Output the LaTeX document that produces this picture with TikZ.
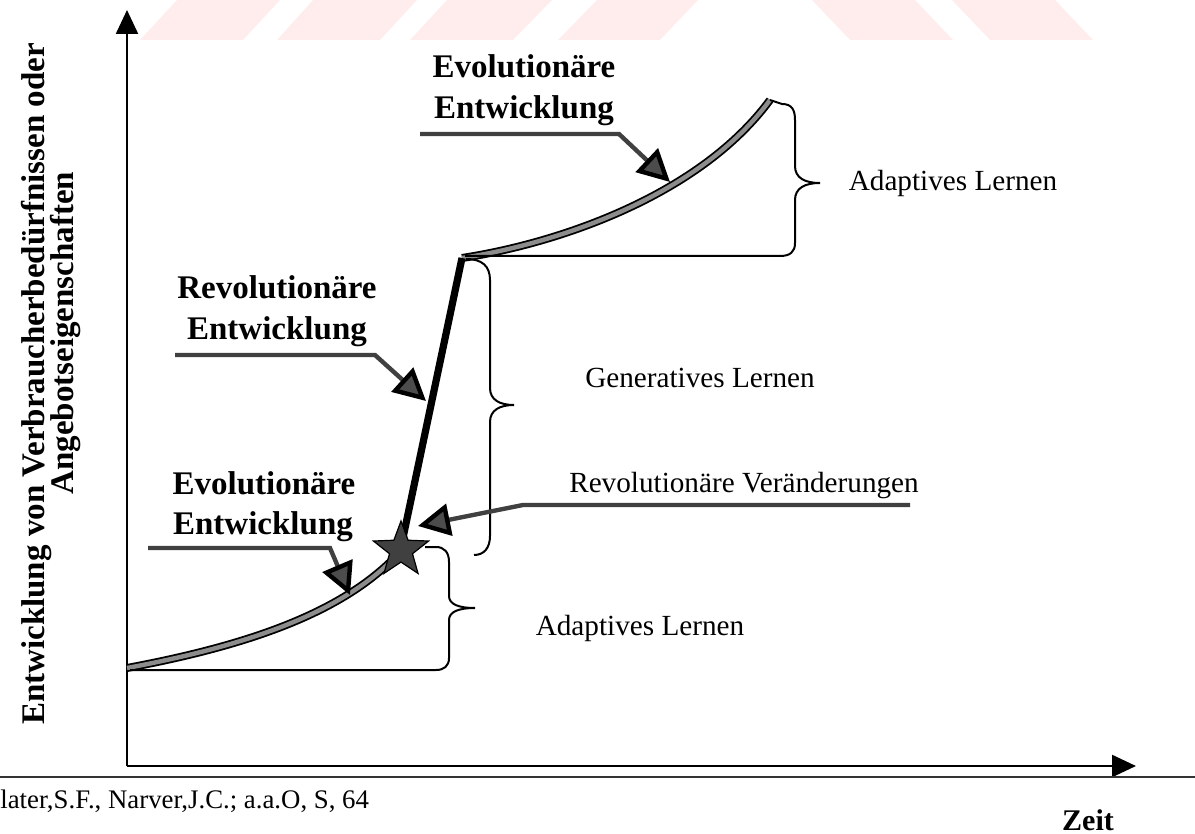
\documentclass[tikz,border=0pt]{standalone}
\usepackage{fontspec}
\setmainfont{Liberation Serif}
\usetikzlibrary{arrows.meta,shapes.geometric}
\tikzset{
  axisline/.style={line width=1.2pt, black, -{Triangle[length=12pt,width=11pt]}},
  bracepath/.style={line width=1pt, black},
  callout/.style={line width=2.2pt, black!75, -{Triangle[length=16pt,width=16pt,fill=black!70,color=black]}},
  lab/.style={font=\fontsize{14.6}{17}\selectfont, inner sep=0pt},
  blab/.style={font=\fontsize{16.5}{19}\selectfont\bfseries, inner sep=0pt},
  ylab/.style={font=\fontsize{16.5}{18}\selectfont\bfseries, inner sep=0pt, rotate=90},
  stripe/.style={fill=red!7!white, draw=none},
}
\begin{document}
\begin{tikzpicture}[x=0.5pt, y=-0.5pt]
\useasboundingbox (0,0) rectangle (1195,834);
% watermark stripes
\fill[stripe] (140,40) -- (177,0) -- (280,0) -- (243,40) -- cycle;
\fill[stripe] (277,40) -- (313,0) -- (417,0) -- (380,40) -- cycle;
\fill[stripe] (410,40) -- (447,0) -- (552,0) -- (513,40) -- cycle;
\fill[stripe] (558,40) -- (597,0) -- (698,0) -- (660,40) -- cycle;
\fill[stripe] (850,40) -- (812,0) -- (915,0) -- (953,40) -- cycle;
\fill[stripe] (990,40) -- (952,0) -- (1055,0) -- (1093,40) -- cycle;

% axes
\coordinate (O) at (127,766);
\coordinate (Ytop) at (127,10);
\coordinate (Xend) at (1136,766);
\draw[axisline] (O) -- (Ytop);
\draw[axisline] (O) -- (Xend);
\draw[line width=0.6pt, black!80] (0,777) -- (1195,777);

% curves
\coordinate (C0) at (127,668);
\coordinate (C1) at (400,552);
\coordinate (C2) at (462,258);
\coordinate (C3) at (770,100);
\draw[line width=4pt, black] (C0) .. controls (250,645) and (345,612) .. (C1);
\draw[line width=2.2pt, black!45] (C0) .. controls (250,645) and (345,612) .. (C1);
\draw[line width=4pt, black] (C2) .. controls (560,243) and (700,195) .. (C3);
\draw[line width=2.2pt, black!45] (C2) .. controls (560,243) and (700,195) .. (C3);
\draw[line width=3.6pt, black] (C1) -- (C2);
\node[star, star points=5, star point ratio=2.4, fill=black!75, draw=black, line width=0.6pt, minimum size=29pt, inner sep=0pt] (star) at (401,550) {};

% braces
\draw[bracepath] (C3) -- (782,104) .. controls (792,104) and (795,110) .. (795,120) -- (795,166) .. controls (795,178) and (805,183) .. (820,183) .. controls (805,183) and (795,188) .. (795,200) -- (795,243) .. controls (795,252) and (790,256) .. (780,256) -- (465,256);
\draw[bracepath] (466,259) .. controls (482,259) and (490,266) .. (490,280) -- (490,388) .. controls (490,400) and (500,405) .. (514,405) .. controls (500,405) and (490,410) .. (490,422) -- (490,536) .. controls (490,548) and (484,555) .. (474,555);
\draw[bracepath] (425,547) -- (436,547) .. controls (444,547) and (449,552) .. (449,562) -- (449,596) .. controls (449,604) and (458,608) .. (475,608) .. controls (458,608) and (449,612) .. (449,620) -- (449,658) .. controls (449,666) and (444,670) .. (436,670) -- (130,670);

% labels
\node[blab] (ev1a) at (524,66) {Evolutionäre};
\node[blab] (ev1b) at (524,111) {Entwicklung};
\node[blab] (rv1a) at (277,287) {Revolutionäre};
\node[blab] (rv1b) at (277,332) {Entwicklung};
\node[blab] (ev2a) at (264,483) {Evolutionäre};
\node[blab] (ev2b) at (263,527) {Entwicklung};
\node[lab] (al1) at (953,183) {Adaptives Lernen};
\node[lab] (gl) at (700,378) {Generatives Lernen};
\node[lab] (rvv) at (744,486) {Revolutionäre Veränderungen};
\node[lab] (al2) at (640,628) {Adaptives Lernen};
\node[blab, font=\fontsize{15}{17}\selectfont\bfseries] (zeit) at (1088,820) {Zeit};
\node[lab, font=\fontsize{13.4}{15}\selectfont, anchor=west] (src) at (0,801) {later,S.F., Narver,J.C.; a.a.O, S, 64};
\node[ylab] (y1) at (37,384) {Entwicklung von Verbraucherbedürfnissen oder};
\node[ylab] (y2) at (66,333) {Angebotseigenschaften};

% callout arrows
\coordinate (a1s) at (420,134);
\coordinate (a1m) at (619,134);
\coordinate (a1t) at (670,182);
\draw[callout] (a1s) -- (a1m) -- (a1t);
\coordinate (a2s) at (175,355);
\coordinate (a2m) at (375,355);
\coordinate (a2t) at (426,401);
\draw[callout] (a2s) -- (a2m) -- (a2t);
\coordinate (a3s) at (148,548);
\coordinate (a3m) at (330,548);
\coordinate (a3t) at (350,595);
\draw[callout] (a3s) -- (a3m) -- (a3t);
\coordinate (a4s) at (910,505);
\coordinate (a4m) at (523,505);
\coordinate (a4t) at (418,526);
\draw[callout] (a4s) -- (a4m) -- (a4t);
\end{tikzpicture}
\end{document}
